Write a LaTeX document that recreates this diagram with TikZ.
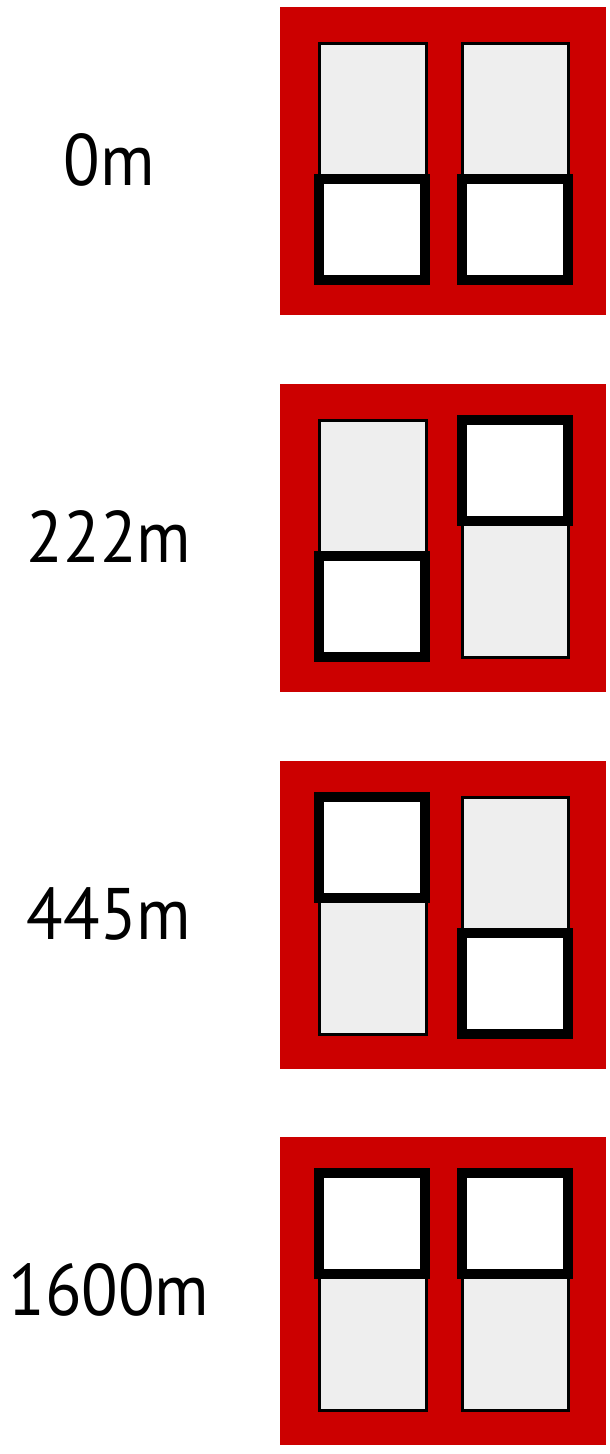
\documentclass[tikz,border=0pt]{standalone}
\usepackage{fontspec}
\newfontfamily\labfont[FakeStretch=0.92]{PT Sans}
\definecolor{panelred}{HTML}{CC0000}
\definecolor{panegrey}{HTML}{EEEEEE}
\begin{document}
\begin{tikzpicture}[x=1pt,y=-1pt,
 frame/.style={fill=panelred,draw=none},
 pane/.style={fill=panegrey,draw=black,line width=3pt},
 sash/.style={fill=white,draw=black,line width=10pt},
 lab/.style={font=\labfont\fontsize{73}{80}\selectfont,inner sep=0pt}]
\useasboundingbox (0,0) rectangle (610,1454);
\foreach \t/\txt/\l/\r [count=\i] in {7/0m/172/172, 384/222m/172/36, 761/445m/36/172, 1137/1600m/36/36}{
  \begin{scope}[yshift=-\t pt]
   \fill[frame] (280,0) rectangle (606,308);
   \draw[pane] (319,36) rectangle (426,273);
   \draw[pane] (462,36) rectangle (568,273);
   \draw[sash] (319,\l) rectangle (425,\l+101);
   \draw[sash] (462,\r) rectangle (568,\r+101);
   \node[lab] (label\i) at (109,153) {\txt};
  \end{scope}
}
\end{tikzpicture}
\end{document}
